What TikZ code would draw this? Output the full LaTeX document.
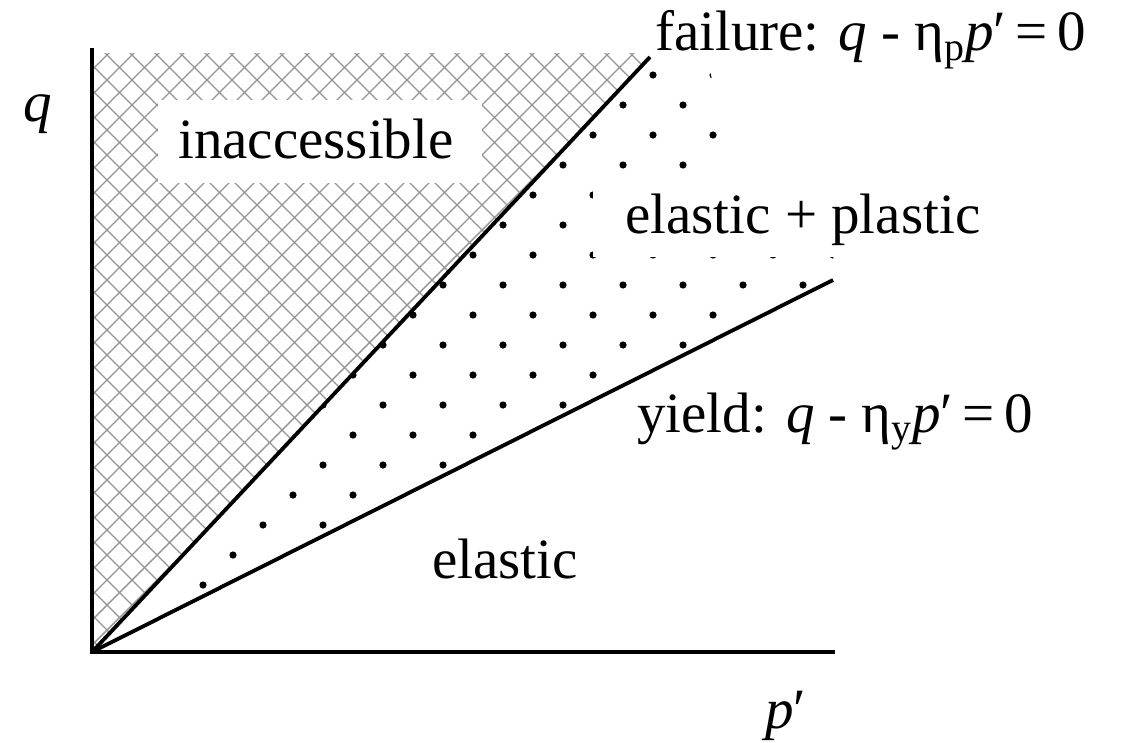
\documentclass[tikz,border=0pt]{standalone}
\usepackage{fontspec}
\setmainfont{Liberation Serif}
\usepackage{tikz}
\begin{document}
\begin{tikzpicture}[x=1pt,y=-1pt,
  every node/.style={font=\fontsize{57}{68}\selectfont,inner sep=0pt,anchor=base west},
  axisline/.style={line width=4.6pt},
  bound/.style={line width=3.8pt},
  hatchline/.style={black!42,line width=1.4pt},
  knockout/.style={fill=white}]
\useasboundingbox (0,0) rectangle (1130,742);
\coordinate (O) at (92,652);
\coordinate (qtop) at (92,48);
\coordinate (pend) at (835,652);
\coordinate (fail) at (650,57);
\coordinate (yield) at (833,280);
% inaccessible region, cross-hatched
\begin{scope}
  \clip (O) -- (92,53) -- (654,53) -- cycle;
  \foreach \c in {-698,-673,...,702} \draw[hatchline] (\c,0) -- ++(700,700);
  \foreach \c in {12,37,...,1412} \draw[hatchline] (\c,0) -- ++(-700,700);
\end{scope}
% elastic + plastic region, dotted
\begin{scope}
  \clip (O) -- (fail) -- (706,57) -- (738,175) -- (835,175) -- (yield) -- cycle;
  \foreach \j in {0,...,21}
    \foreach \i in {0,...,13}
      \fill ({83+30*mod(\j,2)+60*\i},{45+30*\j}) circle[radius=3.6pt];
\end{scope}
\fill[knockout] (158,100) rectangle (482,183);
\fill[knockout] (593,182) rectangle (990,257);
% axes and boundaries
\draw[axisline] (qtop) -- (O) -- (pend);
\draw[bound] (O) -- (fail);
\draw[bound] (O) -- (yield);
% labels
\node (inacc) at (178,158) {inaccessible};
\node (ep) at (625,233) {elastic + plastic};
\node (el) at (432,578) {elastic};
\node (faillbl) at (655,50) {failure: \textit{q} - η\textsubscript{p}\textit{p}′\,=\,0};
\node (yieldlbl) at (637,432) {yield: \textit{q} - η\textsubscript{y}\textit{p}′\,=\,0};
\node (qlbl) at (23,121) {\textit{q}};
\node (plbl) at (765,728) {\textit{p}′};
\end{tikzpicture}
\end{document}
